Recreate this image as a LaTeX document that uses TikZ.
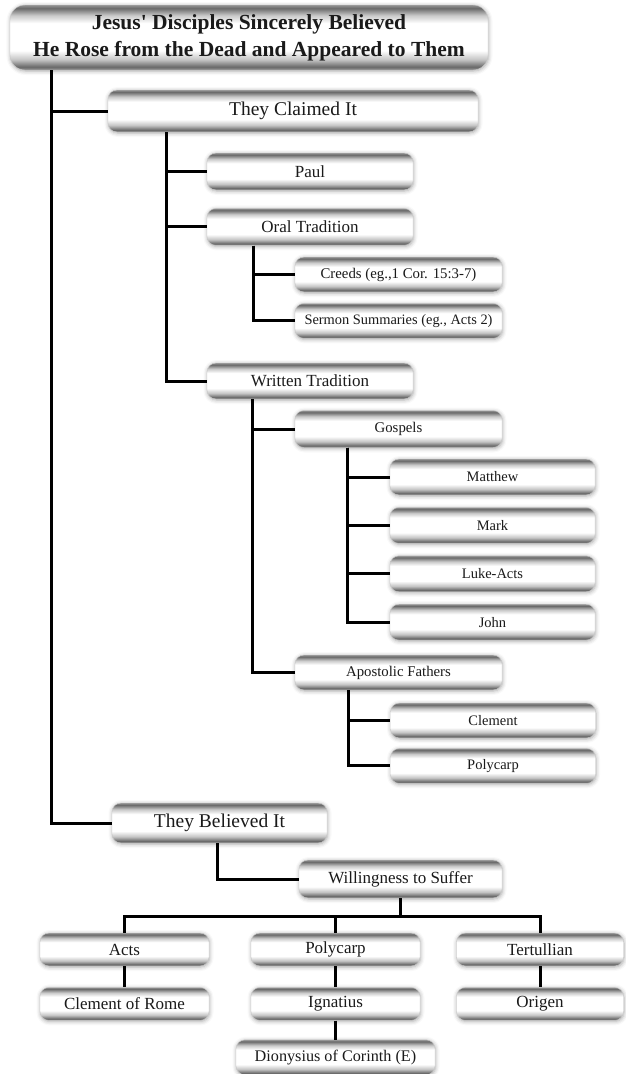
\documentclass[tikz,border=0pt]{standalone}
\usepackage{fontspec}
\setmainfont{Liberation Serif}
\usepackage{xcolor}
\usetikzlibrary{positioning, shadows.blur}
\definecolor{ink}{HTML}{1A1A1A}
\definecolor{rim}{HTML}{949494}
\definecolor{band}{HTML}{6A6A6A}
\pgfdeclareverticalshading{pill}{100bp}{%
  color(0bp)=(rim); color(25bp)=(rim); color(27.5bp)=(band); color(33bp)=(rim!55);
  color(40bp)=(white); color(61bp)=(white); color(67bp)=(rim!50);
  color(72.5bp)=(band); color(75bp)=(rim); color(100bp)=(rim)}
\tikzset{
  pill/.style={
    rectangle, rounded corners=9pt,
    shading=pill, draw=rim!50, line width=0.4pt,
    blur shadow={shadow xshift=0.5pt, shadow yshift=-1pt,
                 shadow blur radius=4pt, shadow opacity=35},
    text=ink, align=center, inner sep=2pt
  },
  titlebox/.style={pill, rounded corners=15pt, minimum width=478pt, minimum height=65pt,
                   font=\bfseries\fontsize{21.5}{27}\selectfont},
  headbox/.style={pill, minimum height=42pt, font=\fontsize{19.5}{22}\selectfont},
  midbox/.style={pill, minimum width=206pt, minimum height=37pt, font=\fontsize{17}{19}\selectfont},
  subbox/.style={pill, minimum width=207pt, minimum height=35pt, font=\fontsize{14.8}{17}\selectfont},
  leafbox/.style={pill, minimum width=205pt, minimum height=36pt, font=\fontsize{14.5}{17}\selectfont},
  basebox/.style={pill, minimum width=169pt, minimum height=33pt, font=\fontsize{17}{19}\selectfont},
  treeline/.style={line width=3pt, draw=black},
}

\begin{document}
\begin{tikzpicture}[x=1pt, y=-1pt, node distance=12pt]
  \useasboundingbox (0,0) rectangle (625,1074);

  % claims branch
  \node[titlebox] (title) at (249,37.5)
    {Jesus\textquotesingle\ Disciples Sincerely Believed\\He Rose from the Dead and Appeared to Them};
  \node[headbox, minimum width=370pt] (claimed) at (293,111) {They Claimed It};

  \node[midbox] (paul) at (310,171.5) {Paul};
  \node[midbox, below=18pt of paul] (oral) {Oral Tradition};
  \node[subbox] (creeds) at (398.5,274.5) {Creeds (eg.,1 Cor. 15:3-7)};
  \node[subbox, below=11pt of creeds, font=\fontsize{14.4}{17}\selectfont]
    (sermon) {Sermon Summaries (eg., Acts 2)};

  \node[midbox, minimum height=36pt] (written) at (310,381) {Written Tradition};
  \node[subbox, minimum height=37pt] (gospels) at (398.5,429) {Gospels};
  \node[leafbox] (matthew) at (492.5,477) {Matthew};
  \node[leafbox, below=of matthew] (mark) {Mark};
  \node[leafbox, below=of mark] (luke) {Luke-Acts};
  \node[leafbox, below=of luke] (john) {John};

  \node[subbox] (fathers) at (398.5,672.5) {Apostolic Fathers};
  \node[leafbox, minimum height=35pt] (clement) at (493,720.5) {Clement};
  \node[leafbox, minimum height=35pt, below=10pt of clement] (polycarp) {Polycarp};

  % belief branch
  \node[headbox, minimum width=215pt, minimum height=40pt] (believed) at (219.5,823) {They Believed It};
  \node[basebox, minimum width=203pt, minimum height=38pt] (suffer) at (400.5,879) {Willingness to Suffer};

  \node[basebox] (acts) at (124.5,949.5) {Acts};
  \node[basebox] (polycarpB) at (335.5,949.5) {Polycarp};
  \node[basebox, minimum width=167pt] (tertullian) at (540,949.5) {Tertullian};
  \node[basebox, below=21pt of acts] (clemrome) {Clement of Rome};
  \node[basebox, below=21pt of polycarpB] (ignatius) {Ignatius};
  \node[basebox, minimum width=167pt, below=21pt of tertullian] (origen) {Origen};
  \node[basebox, minimum width=199pt, minimum height=35pt, below=19pt of ignatius,
        font=\fontsize{16.2}{19}\selectfont] (dionysius) {Dionysius of Corinth (E)};

  % connectors
  \draw[treeline] ([xshift=42pt]title.south west) |- (claimed.west);
  \draw[treeline] ([xshift=42pt]title.south west) |- (believed.west);

  \draw[treeline] ([xshift=59pt]claimed.south west) |- (paul.west);
  \draw[treeline] ([xshift=59pt]claimed.south west) |- (oral.west);
  \draw[treeline] ([xshift=59pt]claimed.south west) |- (written.west);

  \draw[treeline] ([xshift=47pt]oral.south west) |- (creeds.west);
  \draw[treeline] ([xshift=47pt]oral.south west) |- (sermon.west);

  \draw[treeline] ([xshift=46pt]written.south west) |- (gospels.west);
  \draw[treeline] ([xshift=46pt]written.south west) |- (fathers.west);

  \foreach \n in {matthew, mark, luke, john}
    \draw[treeline] ([xshift=53pt]gospels.south west) |- (\n.west);
  \foreach \n in {clement, polycarp}
    \draw[treeline] ([xshift=54pt]fathers.south west) |- (\n.west);

  \draw[treeline] ([xshift=106pt]believed.south west) |- (suffer.west);
  \draw[treeline] (suffer.south) -- ++(0,18) coordinate (bus);
  \draw[treeline] (acts.north) |- (bus) -| (tertullian.north);
  \draw[treeline] (polycarpB.north) -- (polycarpB.north |- bus);

  \draw[treeline] (acts.south) -- (clemrome.north);
  \draw[treeline] (polycarpB.south) -- (ignatius.north);
  \draw[treeline] (ignatius.south) -- (dionysius.north);
  \draw[treeline] (tertullian.south) -- (origen.north);
\end{tikzpicture}
\end{document}
